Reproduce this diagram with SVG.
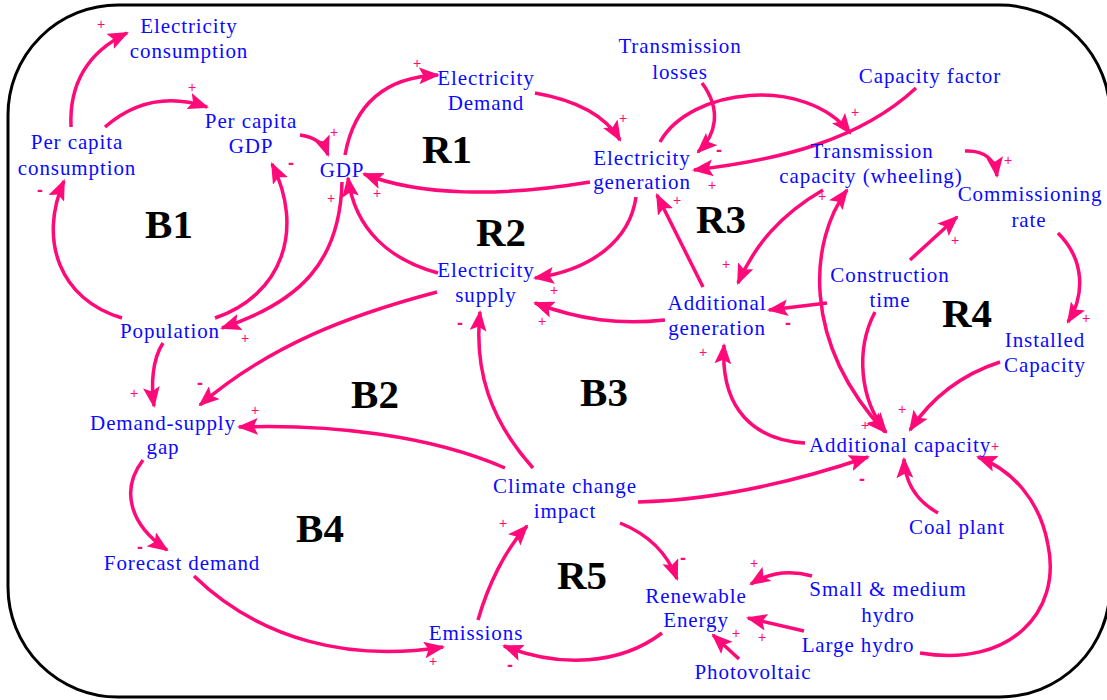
<svg xmlns="http://www.w3.org/2000/svg" width="1107" height="700" viewBox="0 0 1107 700">
<style>
.n{font-family:"Liberation Serif","Times New Roman",serif;font-size:21px;fill:#0a0aff;text-anchor:middle;letter-spacing:0.9px}
.l{font-family:"Liberation Serif","Times New Roman",serif;font-size:41px;font-weight:bold;fill:#000;text-anchor:middle}
.s{font-family:"Liberation Sans",Arial,sans-serif;font-size:14px;fill:#ff0a78;text-anchor:middle;dominant-baseline:central}
.m{font-family:"Liberation Sans",Arial,sans-serif;font-size:18px;font-weight:bold;fill:#ff0a78;text-anchor:middle;dominant-baseline:central}
.c{fill:none;stroke:#ff0a78;stroke-width:3.5;marker-end:url(#ah)}
</style>
<defs>
<marker id="ah" markerUnits="userSpaceOnUse" viewBox="0 0 20 16" refX="18" refY="8" markerWidth="21" markerHeight="17" orient="auto-start-reverse">
<path d="M0,0 L20,8 L0,16 L4,8 z" fill="#ff0a78"/>
</marker>
</defs>
<rect x="8" y="5" width="1102" height="692" rx="110" ry="110" fill="#fff" stroke="#000" stroke-width="3"/>

<g id="connectors">
<path class="c" d="M71,127 Q68,62 127,33"/>
<path class="c" d="M105,127 Q150,88 207,107"/>
<path class="c" d="M300,135 Q322,138 328,155"/>
<path class="c" d="M122,318 C60,300 38,240 64,181"/>
<path class="c" d="M215,318 C282,295 305,230 272,164"/>
<path class="c" d="M342,182 C340,262 300,302 222,328"/>
<path class="c" d="M438,273 C390,260 355,230 348,178"/>
<path class="c" d="M345,155 C355,100 390,77 438,75"/>
<path class="c" d="M535,93 C575,100 605,115 620,140"/>
<path class="c" d="M590,182 C500,197 420,196 364,174"/>
<path class="c" d="M636,197 C630,240 592,270 535,278"/>
<path class="c" d="M665,320 C620,325 580,320 535,303"/>
<path class="c" d="M702,83 C722,110 716,135 698,152"/>
<path class="c" d="M916,88 C860,140 780,160 694,170"/>
<path class="c" d="M660,142 C690,88 805,75 850,133"/>
<path class="c" d="M965,151 C985,150 995,160 997,176"/>
<path class="c" d="M823,190 C780,215 755,245 738,283"/>
<path class="c" d="M847,190 C810,240 800,340 885,432" style="marker-start:url(#ah)"/>
<path class="c" d="M875,312 C855,350 860,400 886,432"/>
<path class="c" d="M827,303 L769,310"/>
<path class="c" d="M910,260 L957,217"/>
<path class="c" d="M1058,233 C1085,260 1085,295 1068,322"/>
<path class="c" d="M1000,362 C960,375 930,400 910,430"/>
<path class="c" d="M805,443 C755,440 720,410 724,345"/>
<path class="c" d="M703,287 L657,195"/>
<path class="c" d="M437,292 C350,315 270,345 200,405"/>
<path class="c" d="M163,343 C152,360 151,385 154,406"/>
<path class="c" d="M505,468 C430,435 330,424 239,427"/>
<path class="c" d="M533,468 C490,420 474,370 480,312"/>
<path class="c" d="M638,502 C720,500 800,480 868,457"/>
<path class="c" d="M620,523 C650,535 668,555 677,579"/>
<path class="c" d="M938,513 C915,500 905,482 904,459"/>
<path class="c" d="M920,653 C1010,668 1062,612 1048,545 C1040,500 1012,470 978,457"/>
<path class="c" d="M812,576 C790,570 770,572 751,584"/>
<path class="c" d="M804,631 L748,618"/>
<path class="c" d="M739,659 L713,635"/>
<path class="c" d="M662,633 C620,665 560,668 504,646"/>
<path class="c" d="M478,620 C488,585 505,550 527,526"/>
<path class="c" d="M194,576 C260,640 350,662 443,647"/>
<path class="c" d="M143,460 C120,490 130,525 167,550"/>
<g id="polarities">
<text class="s" x="101" y="24">+</text>
<text class="s" x="192" y="87">+</text>
<text class="s" x="334" y="132">+</text>
<text class="m" x="40" y="190">-</text>
<text class="m" x="291" y="163">-</text>
<text class="s" x="331" y="198">+</text>
<text class="s" x="377" y="193">+</text>
<text class="s" x="245" y="338">+</text>
<text class="s" x="417" y="63">+</text>
<text class="s" x="623" y="118">+</text>
<text class="m" x="719" y="150">-</text>
<text class="s" x="712" y="185">+</text>
<text class="s" x="677" y="200">+</text>
<text class="s" x="855" y="112">+</text>
<text class="s" x="1008" y="160">+</text>
<text class="s" x="955" y="240">+</text>
<text class="s" x="822" y="196">+</text>
<text class="s" x="726" y="264">+</text>
<text class="m" x="788" y="323">-</text>
<text class="s" x="703" y="352">+</text>
<text class="s" x="1086" y="318">+</text>
<text class="s" x="902" y="409">+</text>
<text class="s" x="865" y="425">+</text>
<text class="s" x="995" y="446">+</text>
<text class="m" x="862" y="479">-</text>
<text class="s" x="554" y="290">+</text>
<text class="s" x="542" y="321">+</text>
<text class="m" x="460" y="323">-</text>
<text class="s" x="134" y="393">+</text>
<text class="m" x="200" y="383">-</text>
<text class="s" x="255" y="410">+</text>
<text class="m" x="140" y="547">-</text>
<text class="s" x="503" y="523">+</text>
<text class="m" x="683" y="558">-</text>
<text class="s" x="754" y="563">+</text>
<text class="s" x="736" y="633">+</text>
<text class="s" x="762" y="637">+</text>
<text class="s" x="433" y="661">+</text>
<text class="m" x="510" y="665">-</text>
</g>
</g>

<g id="loops">
<text class="l" x="169" y="238">B1</text>
<text class="l" x="447" y="163">R1</text>
<text class="l" x="501" y="246">R2</text>
<text class="l" x="721" y="233">R3</text>
<text class="l" x="967" y="327">R4</text>
<text class="l" x="375" y="408">B2</text>
<text class="l" x="604" y="406">B3</text>
<text class="l" x="320" y="542">B4</text>
<text class="l" x="582" y="589">R5</text>
</g>

<g id="electricity-consumption"><text class="n" x="189" y="33">Electricity</text><text class="n" x="189" y="58">consumption</text></g>
<g id="per-capita-consumption"><text class="n" x="77" y="149">Per capita</text><text class="n" x="77" y="175">consumption</text></g>
<g id="per-capita-gdp"><text class="n" x="251" y="128">Per capita</text><text class="n" x="251" y="153">GDP</text></g>
<g id="gdp"><text class="n" x="342" y="177">GDP</text></g>
<g id="electricity-demand"><text class="n" x="486" y="85">Electricity</text><text class="n" x="486" y="110">Demand</text></g>
<g id="electricity-generation"><text class="n" x="642" y="165">Electricity</text><text class="n" x="642" y="189">generation</text></g>
<g id="transmission-losses"><text class="n" x="680" y="53">Transmission</text><text class="n" x="680" y="79">losses</text></g>
<g id="capacity-factor"><text class="n" x="930" y="83">Capacity factor</text></g>
<g id="transmission-capacity"><text class="n" x="872" y="158">Transmission</text><text class="n" x="871" y="183">capacity (wheeling)</text></g>
<g id="commissioning-rate"><text class="n" x="1030" y="201">Commissioning</text><text class="n" x="1029" y="227">rate</text></g>
<g id="electricity-supply"><text class="n" x="486" y="277">Electricity</text><text class="n" x="486" y="302">supply</text></g>
<g id="additional-generation"><text class="n" x="717" y="310">Additional</text><text class="n" x="717" y="335">generation</text></g>
<g id="construction-time"><text class="n" x="890" y="282">Construction</text><text class="n" x="890" y="307">time</text></g>
<g id="installed-capacity"><text class="n" x="1045" y="347">Installed</text><text class="n" x="1045" y="372">Capacity</text></g>
<g id="additional-capacity"><text class="n" x="900" y="452">Additional capacity</text></g>
<g id="population"><text class="n" x="170" y="338">Population</text></g>
<g id="demand-supply-gap"><text class="n" x="163" y="430">Demand-supply</text><text class="n" x="163" y="454">gap</text></g>
<g id="forecast-demand"><text class="n" x="182" y="570">Forecast demand</text></g>
<g id="climate-change-impact"><text class="n" x="565" y="493">Climate change</text><text class="n" x="565" y="518">impact</text></g>
<g id="coal-plant"><text class="n" x="957" y="534">Coal plant</text></g>
<g id="small-medium-hydro"><text class="n" x="888" y="596">Small &amp; medium</text><text class="n" x="888" y="622">hydro</text></g>
<g id="large-hydro"><text class="n" x="858" y="652">Large hydro</text></g>
<g id="renewable-energy"><text class="n" x="696" y="603">Renewable</text><text class="n" x="696" y="627">Energy</text></g>
<g id="emissions"><text class="n" x="476" y="640">Emissions</text></g>
<g id="photovoltaic"><text class="n" x="753" y="679">Photovoltaic</text></g>
</svg>
